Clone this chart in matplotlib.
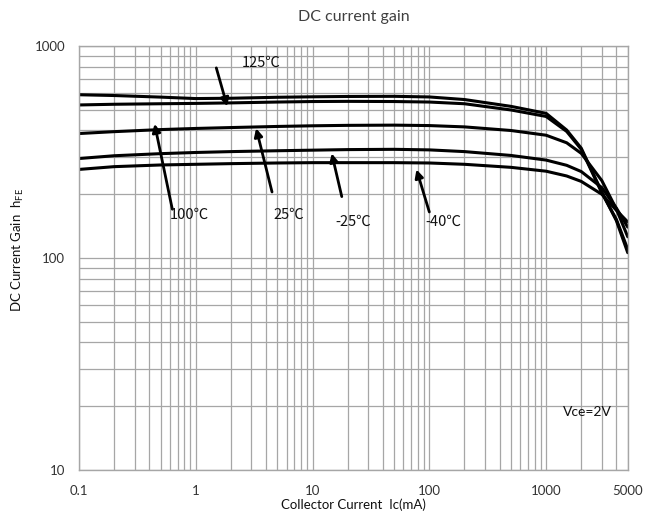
import matplotlib
matplotlib.use("Agg")
import matplotlib.pyplot as plt
from matplotlib.ticker import LogLocator, FixedLocator, FixedFormatter, NullFormatter

plt.rcParams['font.family'] = ['Lato', 'DejaVu Sans']

# Collector current (mA)
ic = [0.1, 0.2, 0.5, 1, 2, 5, 10, 20, 50, 100, 200, 500, 1000, 1500, 2000, 3000, 4000, 5000]

# DC current gain hFE per temperature
hfe_125 = [590, 585, 575, 566, 568, 574, 577, 579, 580, 576, 560, 520, 482, 402, 330, 205, 150, 106]
hfe_100 = [528, 532, 535, 537, 540, 545, 548, 549, 548, 545, 535, 500, 466, 396, 326, 203, 152, 110]
hfe_25 = [387, 395, 404, 409, 413, 418, 421, 423, 424, 422, 416, 400, 380, 350, 312, 232, 170, 126]
hfe_m25 = [295, 304, 311, 315, 318, 321, 323, 325, 326, 324, 318, 305, 290, 274, 256, 215, 172, 140]
hfe_m40 = [262, 270, 275, 277, 279, 281, 282, 282, 282, 281, 277, 268, 257, 244, 230, 200, 168, 148]

series = [hfe_125, hfe_100, hfe_25, hfe_m25, hfe_m40]

# annotations: label, text pos, arrow tail, arrow tip (data coords)
labels = ["125℃", "100℃", "25℃", "-25℃", "-40℃"]
text_pos = [(3.6, 830), (0.88, 160), (6.3, 160), (22.5, 148), (132, 148)]
arrow_tail = [(1.50, 790), (0.63, 170), (4.5, 205), (17.8, 195), (100, 165)]
arrow_tip = [(1.86, 520), (0.444, 430), (3.29, 410), (14.6, 312), (77.6, 262)]

xticks = [0.1, 1, 10, 100, 1000, 5000]
xticklabels = ["0.1", "1", "10", "100", "1000", "5000"]
yticks = [10, 100, 1000]
yticklabels = ["10", "100", "1000"]

fig = plt.figure(figsize=(6.58, 5.25), dpi=100)
ax = fig.add_axes([0.120, 0.105, 0.834, 0.807])
ax.set_xscale('log')
ax.set_yscale('log')
ax.set_xlim(0.1, 5000)
ax.set_ylim(10, 1000)

grid_c = '#a6a6a6'
ax.xaxis.set_major_locator(FixedLocator(xticks))
ax.xaxis.set_major_formatter(FixedFormatter(xticklabels))
ax.xaxis.set_minor_locator(LogLocator(base=10, subs=[2, 3, 4, 5, 6, 7, 8, 9], numticks=20))
ax.xaxis.set_minor_formatter(NullFormatter())
ax.yaxis.set_major_locator(FixedLocator(yticks))
ax.yaxis.set_major_formatter(FixedFormatter(yticklabels))
ax.yaxis.set_minor_locator(LogLocator(base=10, subs=[2, 3, 4, 5, 6, 7, 8, 9], numticks=20))
ax.yaxis.set_minor_formatter(NullFormatter())
ax.grid(True, which='both', color=grid_c, linewidth=0.9)
ax.set_axisbelow(True)
for s in ax.spines.values():
    s.set_color(grid_c)
    s.set_linewidth(1.0)
ax.tick_params(which='both', length=0, colors='#333333', labelsize=9.5)
ax.tick_params(axis='x', pad=11)
ax.tick_params(axis='y', pad=10)

for ys in series:
    ax.plot(ic, ys, color='black', linewidth=2.2, solid_capstyle='round')

for lab, tp, tail, tip in zip(labels, text_pos, arrow_tail, arrow_tip):
    ax.annotate('', xy=tip, xytext=tail,
                arrowprops=dict(arrowstyle='-|>', color='black', lw=2.0,
                                mutation_scale=12, shrinkA=0, shrinkB=0))
    ax.text(tp[0], tp[1], lab, ha='center', va='center', fontsize=10.5, color='#111111',
            family=['Noto Sans CJK SC', 'DejaVu Sans'])

ax.text(2270, 18.8, "Vce=2V", ha='center', va='center', fontsize=10, color='#111111')

ax.set_title("DC current gain", fontsize=11.5, color='#404040', pad=18)
ax.set_xlabel("Collector Current  Ic(mA)", fontsize=9.5, color='#111111', labelpad=1)
ax.set_ylabel(r"DC Current Gain  h$_{\mathregular{FE}}$", fontsize=9.5, color='#111111')
ax.yaxis.set_label_coords(-0.097, 0.52)

fig.savefig("out.png", dpi=100)
